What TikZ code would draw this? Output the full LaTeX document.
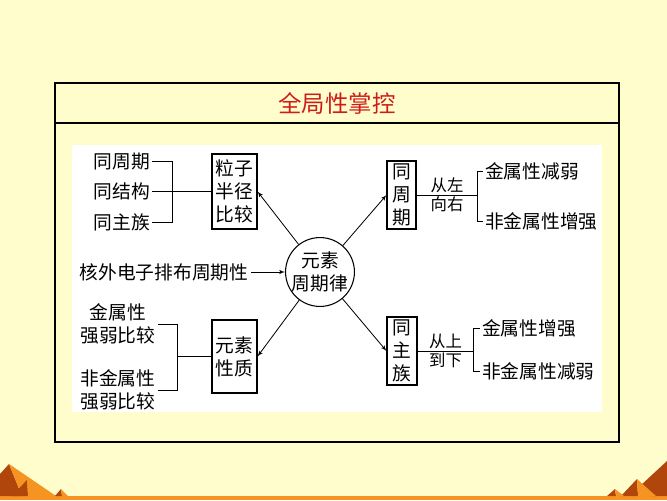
\documentclass[tikz,border=0pt]{standalone}
\usepackage{fontspec}
\setmainfont{Noto Sans CJK SC}
\usepackage{xcolor}
\definecolor{paper}{RGB}{255,253,204}
\definecolor{titlered}{RGB}{206,28,28}
\definecolor{pyrdark}{RGB}{176,70,12}
\definecolor{pyrlight}{RGB}{245,148,32}
\usetikzlibrary{arrows, positioning, calc}
\newcommand{\bodyfont}{\fontsize{16pt}{19.5pt}\selectfont}
\newcommand{\notefont}{\fontsize{14pt}{16pt}\selectfont}

\begin{document}
\begin{tikzpicture}[x=0.03cm, y=-0.03cm,
        item/.style={font=\bodyfont, inner sep=2pt},
        panel/.style={rectangle, draw, line width=0.9pt, fill=white, align=center, font=\bodyfont, inner sep=0pt, minimum width=1.35cm},
        law/.style={circle, draw, line width=0.9pt, fill=white, align=center, font=\bodyfont, minimum size=1.98cm, inner sep=0pt},
        note/.style={font=\notefont, inner sep=1.5pt},
        wire/.style={line width=0.7pt},
        line/.style={wire, -latex'}]

        % page, frame and title
        \fill[paper] (0,0) rectangle (667,500);
        \useasboundingbox (0,0) rectangle (667,500);
        \fill[white] (72,145) rectangle (602,412);
        \draw[line width=1pt] (55,83) rectangle (619,442);
        \draw[line width=1pt] (55,123) -- (619,123);
        \node[font=\fontsize{20pt}{22pt}\selectfont, text=titlered] (title) at (337,103) {全局性掌控};

        % centre
        \node[law] (yl) at (320,272) {元素\\周期律};
        \node[item, anchor=east] (hw) at ($(yl.west)+(-34,0)$) {核外电子排布周期性};

        % left side
        \node[panel, minimum height=2.25cm] (lz) at (234.5,191.5) {粒子\\半径\\比较};
        \coordinate (brt) at ($(lz.west)+(-39,0)$);
        \node[item, anchor=east] (jg) at ($(lz.west)+(-59,0)$) {同结构};
        \node[item, anchor=east] (zq) at ($(jg.east)+(0,-30)$) {同周期};
        \node[item, anchor=east] (zz) at ($(jg.east)+(0,31)$) {同主族};

        \node[panel, minimum height=2.19cm] (xz) at (234.5,356.5) {元素\\性质};
        \coordinate (brl) at ($(xz.west)+(-34,0)$);
        \node[item, align=center, anchor=east] (jq) at (158,324) {金属性\\强弱比较};
        \node[item, align=center, anchor=east] (fj) at (158,390) {非金属性\\强弱比较};

        % right side
        \node[panel, minimum width=0.87cm, minimum height=2.04cm] (tzq) at (401.5,195) {同\\周\\期};
        \coordinate (brr) at ($(tzq.east)+(61,0)$);
        \node[item, anchor=west] (r1) at ($(brr)+(5,-24)$) {金属性减弱};
        \node[item, anchor=west] (r2) at ($(brr)+(5,26)$) {非金属性增强};

        \node[panel, minimum width=0.9cm, minimum height=2.04cm] (tzz) at (402,351) {同\\主\\族};
        \coordinate (brs) at ($(tzz.east)+(56,0)$);
        \node[item, anchor=west] (s1) at ($(brs)+(6,-23)$) {金属性增强};
        \node[item, anchor=west] (s2) at ($(brs)+(6,20)$) {非金属性减弱};

        % connectors
        \draw[wire] (zq.east) -| (brt) |- (zz.east);
        \draw[wire] (jg.east) -- (lz.west);
        \draw[wire] (jq.east) -| (brl) |- (fj.east);
        \draw[wire] (brl) -- (xz.west);
        \draw[wire] (tzq.east) -- node[note, above] {从左} node[note, below] {向右} (brr);
        \draw[wire] (r1.west) -| (brr) |- (r2.west);
        \draw[wire] (tzz.east) -- node[note, above] {从上} node[note, below] {到下} (brs);
        \draw[wire] (s1.west) -| (brs) |- (s2.west);

        \draw[line] (hw.east) -- (yl.west);
        \draw[line] (yl) -- (lz.east);
        \draw[line] (yl) -- (xz.east);
        \draw[line] (yl) -- (tzq.west);
        \draw[line] (yl) -- (tzz.west);

        % pyramids along the bottom
        \fill[pyrlight] (0,496) rectangle (667,500);
        \fill[pyrdark] (0,474) -- (9,464) -- (22,496) -- (0,496) -- cycle;
        \fill[pyrlight] (9,464) -- (56,496) -- (22,496) -- cycle;
        \fill[pyrdark] (27,480) -- (12,496) -- (28,496) -- cycle;
        \fill[pyrlight] (27,480) -- (28,496) -- (44,496) -- cycle;
        \fill[pyrdark] (61,489) -- (55,496) -- (62,496) -- cycle;
        \fill[pyrlight] (61,489) -- (62,496) -- (68,496) -- cycle;
        \fill[pyrdark] (667,461) -- (640,486) -- (650,496) -- (667,496) -- cycle;
        \fill[pyrdark] (637,479) -- (621,496) -- (638,496) -- cycle;
        \fill[pyrlight] (637,479) -- (638,496) -- (656,496) -- cycle;
        \fill[pyrdark] (615,489) -- (607,496) -- (616,496) -- cycle;
        \fill[pyrlight] (615,489) -- (616,496) -- (624,496) -- cycle;
    \end{tikzpicture}
\end{document}
